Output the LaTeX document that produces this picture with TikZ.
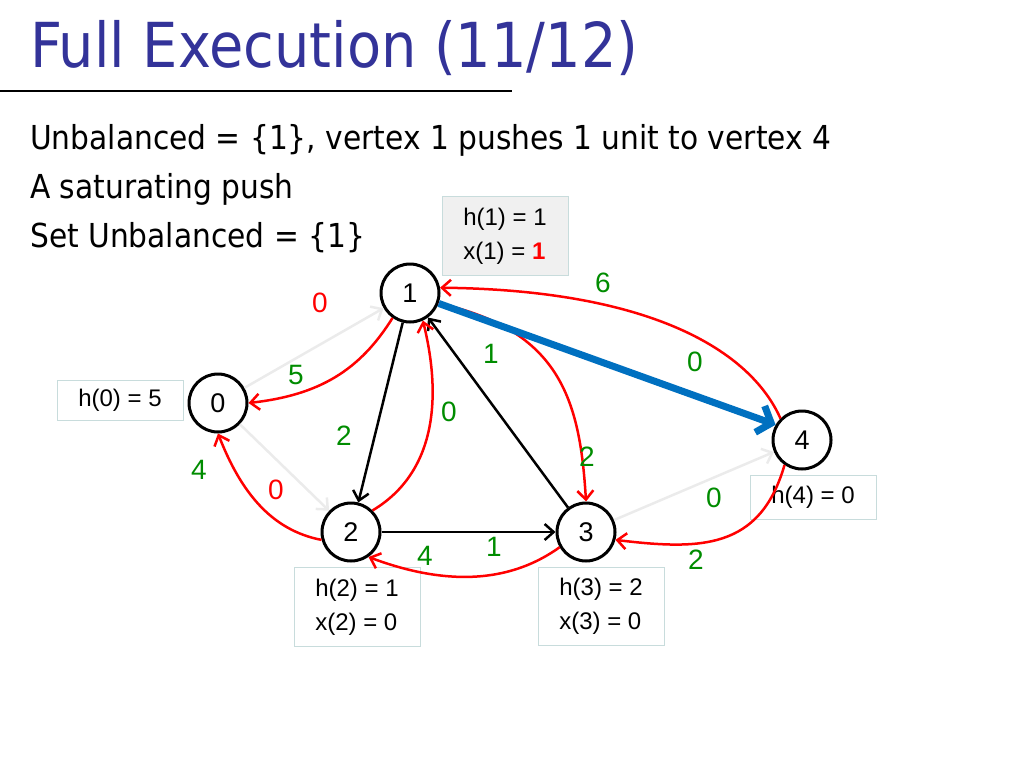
\documentclass[tikz,border=0pt]{standalone}
\usepackage{fontspec}
\setmainfont{DejaVu Sans Condensed}
\newfontfamily\arl{Liberation Sans}
\usetikzlibrary{arrows.meta}
\definecolor{ttl}{RGB}{51,51,153}
\definecolor{gr}{RGB}{0,140,0}
\definecolor{bl}{RGB}{0,112,192}
\begin{document}
\begin{tikzpicture}[x=1pt,y=-1pt,
 vtx/.style={circle,draw,line width=3pt,minimum size=58pt,inner sep=0pt,font=\arl\fontsize{27}{27}\selectfont},
 hbox/.style={draw={rgb,255:red,200;green,220;blue,220},line width=1pt,align=left,font=\arl\fontsize{24}{34}\selectfont,minimum width=126pt},
 redE/.style={red,line width=2.5pt,-{Straight Barb[length=9pt,width=16pt]}},
 blkE/.style={black,line width=2.5pt,-{Straight Barb[length=9pt,width=16pt]}},
 grayE/.style={black!8,line width=2.5pt,-{Straight Barb[length=9pt,width=16pt]}},
 glab/.style={gr,font=\arl\fontsize{28}{28}\selectfont},
 rlab/.style={red,font=\arl\fontsize{28}{28}\selectfont}]
\useasboundingbox (0,0) rectangle (1024,768);
\node[anchor=west,ttl,font=\fontsize{62}{62}\selectfont,inner sep=0pt] (title) at (30,48) {Full Execution (11/12)};
\draw[line width=2pt] (0,91) -- (512,91);
\node[anchor=west,font=\fontsize{33}{33}\selectfont,inner sep=0pt] (t1) at (30,140) {Unbalanced = \{1\}, vertex 1 pushes 1 unit to vertex 4};
\node[anchor=west,font=\fontsize{33}{33}\selectfont,inner sep=0pt] (t2) at (30,189) {A saturating push};
\node[anchor=west,font=\fontsize{33}{33}\selectfont,inner sep=0pt] (t3) at (30,238) {Set Unbalanced = \{1\}};

\node[hbox,fill=black!6,minimum height=79pt] (b1) at (505,236) {h(1) = 1\\x(1) = \textcolor{red}{\textbf{1}}};
\node[hbox,minimum height=40pt] (b0) at (120,400) {h(0) = 5};
\node[hbox,minimum height=44pt] (b4) at (813,497) {h(4) = 0};
\node[hbox,minimum height=79pt] (b2) at (357,607) {h(2) = 1\\x(2) = 0};
\node[hbox,minimum height=78pt] (b3) at (601,606) {h(3) = 2\\x(3) = 0};

\node[vtx,fill=white] (n1) at (410,293) {1};
\node[vtx,fill=white] (n0) at (218,403) {0};
\node[vtx,fill=white] (n2) at (351,532) {2};
\node[vtx,fill=white] (n3) at (586,532) {3};
\node[vtx,fill=white] (n4) at (802,440) {4};

\draw[grayE] (n0) -- (n1);
\draw[grayE] (n0) -- (n2);
\draw[grayE] (n3) -- (n4);
\draw[blkE] (n1) -- (n2);
\draw[blkE] (n3) -- (n1);
\draw[blkE] (n2) -- (n3);
\draw[redE] (n1.235) .. controls (360,370) and (320,395) .. (n0.east);
\draw[redE] (n2.45) .. controls (440,470) and (440,390) .. (n1.-65);
\draw[redE] (n1.-20) .. controls (560,330) and (580,400) .. (n3.north);
\draw[redE] (n4.north west) .. controls (750,350) and (650,290) .. (n1.10);
\draw[redE] (n2.195) .. controls (270,530) and (240,490) .. (n0.south);
\draw[redE] (n3.210) .. controls (500,590) and (430,580) .. (n2.-55);
\draw[redE] (n4.235) .. controls (760,550) and (700,550) .. (n3.-15);
\draw[bl,line width=7pt,-{Straight Barb[length=12pt,width=28pt]}] (n1.-20) -- (n4.150);

\node[rlab] (l01) at (320,303) {0};
\node[glab] (l10) at (296,375) {5};
\node[glab] (l12) at (344,436) {2};
\node[glab] (l21) at (449,412) {0};
\node[glab] (l31) at (491,354) {1};
\node[glab] (l13) at (587,457) {2};
\node[glab] (l14) at (695,362) {0};
\node[glab] (l41) at (603,283) {6};
\node[rlab] (l02) at (276,490) {0};
\node[glab] (l20) at (199,470) {4};
\node[glab] (l23) at (494,547) {1};
\node[glab] (l32) at (425,556) {4};
\node[glab] (l34) at (714,498) {0};
\node[glab] (l43) at (696,560) {2};
\end{tikzpicture}
\end{document}
